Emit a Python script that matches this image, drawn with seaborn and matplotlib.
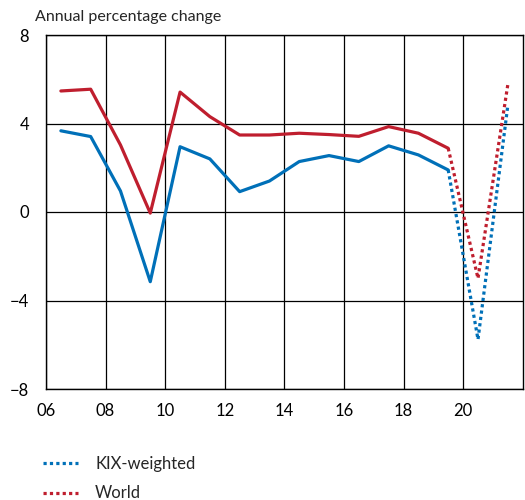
import matplotlib
matplotlib.use("Agg")
import matplotlib.pyplot as plt
from matplotlib.lines import Line2D
import seaborn as sns
import pandas as pd

years = [6.5, 7.5, 8.5, 9.5, 10.5, 11.5, 12.5, 13.5, 14.5, 15.5, 16.5, 17.5, 18.5, 19.5, 20.5, 21.5]
kix = [3.67, 3.41, 0.95, -3.15, 2.95, 2.4, 0.92, 1.4, 2.28, 2.55, 2.28, 2.99, 2.58, 1.9, -5.76, 4.8]
world = [5.47, 5.55, 3.03, -0.05, 5.42, 4.31, 3.48, 3.48, 3.56, 3.5, 3.42, 3.86, 3.56, 2.88, -3.0, 5.75]
series_names = ["KIX-weighted", "World"]
xticks = [6, 8, 10, 12, 14, 16, 18, 20]
xticklabels = ["06", "08", "10", "12", "14", "16", "18", "20"]
yticks = [-8, -4, 0, 4, 8]

blue = "#0070b8"
red = "#bf1e2e"

sns.set_theme(style="white")
plt.rcParams["font.family"] = ["Lato", "DejaVu Sans"]

df = pd.DataFrame({"year": years, "KIX-weighted": kix, "World": world})
split = 13  # index of last actual (solid) point

fig = plt.figure(figsize=(5.25, 5.0), dpi=100)
ax = fig.add_axes([0.0876, 0.222, 0.908, 0.708])

lw = 2.3
for name, col in zip(series_names, [blue, red]):
    solid = df.iloc[: split + 1]
    fc = df.iloc[split:]
    sns.lineplot(x=solid["year"], y=solid[name], ax=ax, color=col, linewidth=lw)
    sns.lineplot(x=fc["year"], y=fc[name], ax=ax, color=col, linewidth=lw,
                 linestyle=(0, (1, 1)), dash_capstyle="butt")

ax.set_xlim(6, 22)
ax.set_ylim(-8, 8)
ax.set_xticks(xticks)
ax.set_xticklabels(xticklabels)
ax.set_yticks(yticks)
ax.set_xlabel("")
ax.set_ylabel("")
ax.grid(True, color="black", linewidth=0.9)
ax.set_axisbelow(True)
for s in ax.spines.values():
    s.set_color("black")
    s.set_linewidth(1.0)
ax.tick_params(axis="both", length=0, labelsize=12, colors="black")
ax.tick_params(axis="y", pad=12)
ax.tick_params(axis="x", pad=10)

fig.text(0.067, 0.966, "Annual percentage change", fontsize=11.5, va="center", ha="left")

handles = [Line2D([0], [0], color=blue, linewidth=lw, linestyle=(0, (1, 1))),
           Line2D([0], [0], color=red, linewidth=lw, linestyle=(0, (1, 1)))]
fig.legend(handles, series_names, loc="upper left", bbox_to_anchor=(0.07, 0.101),
           frameon=False, fontsize=12, handlelength=2.1, labelspacing=0.8,
           handletextpad=1.0, borderaxespad=0)

fig.savefig("out.png", dpi=100)
